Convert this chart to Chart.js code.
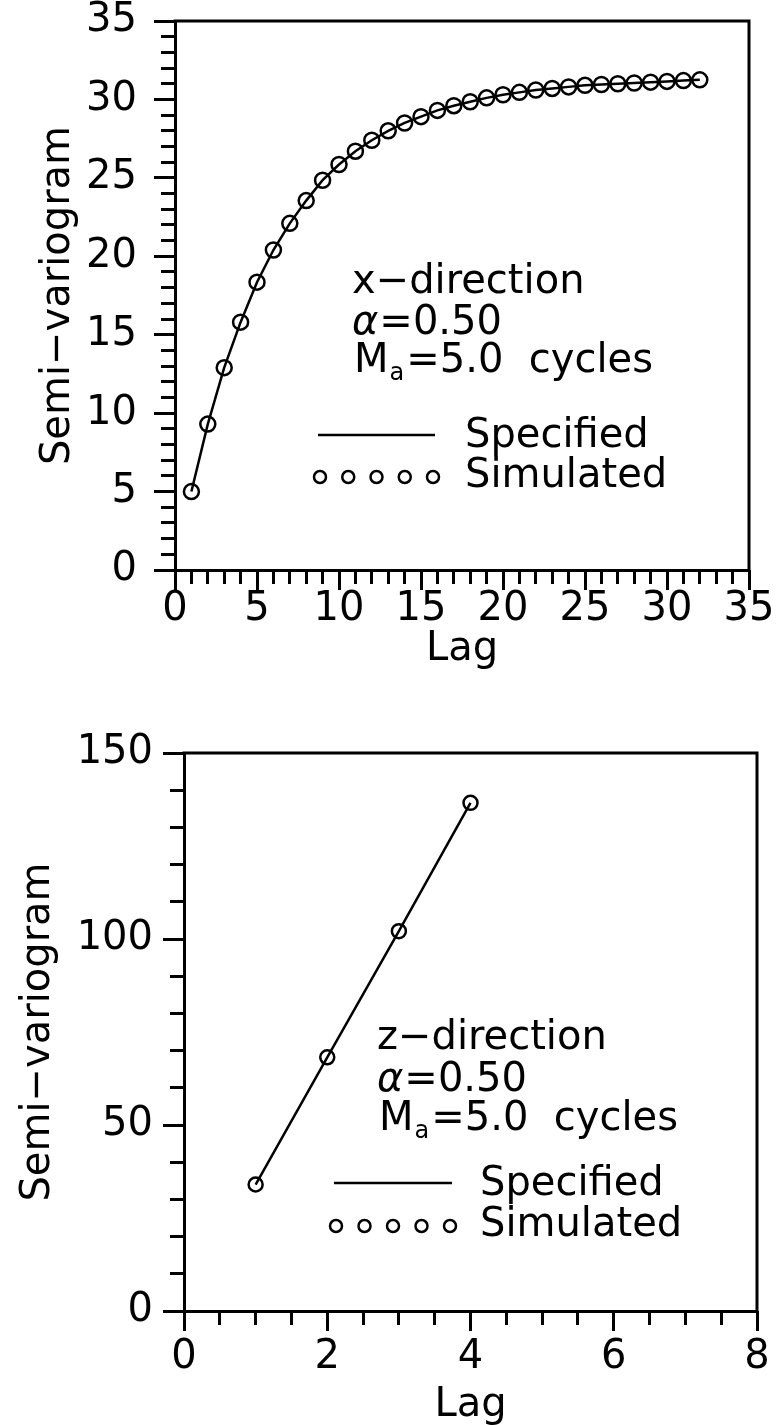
<!DOCTYPE html>
<html>
<head>
<meta charset="utf-8">
<title>Semi-variogram</title>
<script src="https://cdn.jsdelivr.net/npm/chart.js@4.4.1/dist/chart.umd.min.js"></script>
<style>
  html, body { margin: 0; padding: 0; background: #fff; }
  body { width: 782px; height: 1425px; position: relative; overflow: hidden; }
  canvas { position: absolute; left: 0; }
  #xdir { top: 0; }
  #zdir { top: 700px; }
</style>
</head>
<body>
<canvas id="xdir" width="782" height="700"></canvas>
<canvas id="zdir" width="782" height="725"></canvas>
<script>
// x-direction semi-variogram, lags 1..32
const xLag = [1, 2, 3, 4, 5, 6, 7, 8, 9, 10, 11, 12, 13, 14, 15, 16,
              17, 18, 19, 20, 21, 22, 23, 24, 25, 26, 27, 28, 29, 30, 31, 32];
const xGamma = [5.0, 9.3, 12.9, 15.8, 18.35, 20.4, 22.1, 23.55, 24.85, 25.85, 26.7, 27.4, 28.0, 28.5, 28.9, 29.3,
                29.6, 29.85, 30.1, 30.3, 30.45, 30.6, 30.7, 30.8, 30.9, 30.95, 31.0, 31.05, 31.1, 31.15, 31.2, 31.25];

// z-direction semi-variogram, lags 1..4
const zLag = [1, 2, 3, 4];
const zGamma = [34.0, 68.2, 102.1, 136.6];

// labelled tick values
const xLagTicks = [0, 5, 10, 15, 20, 25, 30, 35];
const xGammaTicks = [0, 5, 10, 15, 20, 25, 30, 35];
const zLagTicks = [0, 2, 4, 6, 8];
const zGammaTicks = [0, 50, 100, 150];

// annotation text
const xNoteTitle = 'x\u2212direction';
const zNoteTitle = 'z\u2212direction';
const noteAlphaSym = '\u03B1';
const noteAlphaVal = '=0.50';
const noteM = 'M';
const noteMSub = 'a';
const noteCycles = '=5.0  cycles';
const seriesSpecified = 'Specified';
const seriesSimulated = 'Simulated';
const axisTitleY = 'Semi\u2212variogram';
const axisTitleX = 'Lag';

const FONT = '"DejaVu Sans", "Liberation Sans", sans-serif';
Chart.defaults.font.family = FONT;
Chart.defaults.color = '#000';

const toPoints = (xs, ys) => xs.map((x, i) => ({ x: x, y: ys[i] }));

// top and right edges of the plotting frame
const framePlugin = {
  id: 'frame',
  afterDatasetsDraw(chart) {
    const { ctx, chartArea: a } = chart;
    ctx.save();
    ctx.strokeStyle = '#000';
    ctx.lineWidth = 3;
    ctx.lineCap = 'square';
    ctx.beginPath();
    ctx.moveTo(a.left, a.top);
    ctx.lineTo(a.right, a.top);
    ctx.lineTo(a.right, a.bottom);
    ctx.stroke();
    ctx.restore();
  }
};

// in-plot annotation with its own small key
const notePlugin = {
  id: 'note',
  afterDraw(chart, args, o) {
    const ctx = chart.ctx;
    const ds = chart.data.datasets;
    const big = '40px ' + FONT;
    ctx.save();
    ctx.fillStyle = '#000';
    ctx.strokeStyle = '#000';
    ctx.textAlign = 'left';
    ctx.textBaseline = 'alphabetic';
    ctx.font = big;
    ctx.fillText(o.title, o.x, o.y1);

    ctx.font = 'italic 40px ' + FONT;
    ctx.fillText(noteAlphaSym, o.x, o.y2);
    const aw = ctx.measureText(noteAlphaSym).width;
    ctx.font = big;
    ctx.fillText(noteAlphaVal, o.x + aw + 1, o.y2);

    ctx.fillText(noteM, o.x + 2, o.y3);
    const mw = ctx.measureText(noteM).width;
    ctx.font = '24px ' + FONT;
    ctx.fillText(noteMSub, o.x + 2 + mw + 1, o.y3 + 8);
    const sw = ctx.measureText(noteMSub).width;
    ctx.font = big;
    ctx.fillText(noteCycles, o.x + 2 + mw + sw + 3, o.y3);

    // key: solid line
    ctx.lineWidth = 2.5;
    ctx.beginPath();
    ctx.moveTo(o.keyX0, o.lineY);
    ctx.lineTo(o.keyX1, o.lineY);
    ctx.stroke();
    ctx.fillText(ds[0].label, o.textX, o.lineY + 12);
    // key: row of open circles
    for (let i = 0; i < 5; i++) {
      const cx = o.keyX0 + 2 + i * (o.keyX1 - o.keyX0 - 4) / 4;
      ctx.beginPath();
      ctx.arc(cx, o.circleY, 6, 0, Math.PI * 2);
      ctx.stroke();
    }
    ctx.fillText(ds[1].label, o.textX, o.circleY + 10);
    ctx.restore();
  }
};

function buildChart(id, cfg) {
  const tickFont = { size: 40, lineHeight: 1 };
  const titleFont = { size: 40, lineHeight: 1.2 };
  const pts = toPoints(cfg.lag, cfg.gamma);
  return new Chart(document.getElementById(id), {
    type: 'scatter',
    data: {
      datasets: [
        {
          label: seriesSpecified,
          data: pts,
          showLine: true,
          borderColor: '#000',
          borderWidth: 2.5,
          pointRadius: 0,
          pointHoverRadius: 0,
          fill: false
        },
        {
          label: seriesSimulated,
          data: pts,
          showLine: false,
          pointStyle: 'circle',
          pointRadius: cfg.pointRadius,
          pointHoverRadius: cfg.pointRadius,
          pointBorderWidth: 2.5,
          borderColor: '#000',
          backgroundColor: 'rgba(0,0,0,0)'
        }
      ]
    },
    options: {
      responsive: false,
      animation: false,
      events: [],
      layout: { padding: cfg.padding },
      plugins: {
        legend: { display: false },
        tooltip: { enabled: false },
        note: cfg.note
      },
      scales: {
        x: {
          type: 'linear',
          position: 'bottom',
          min: cfg.xMin, max: cfg.xMax,
          afterBuildTicks: s => { s.ticks = cfg.xTicks.map(v => ({ value: v })); },
          afterFit: s => { s.height = cfg.xHeight; },
          border: { display: true, width: 3, color: '#000' },
          grid: { drawOnChartArea: false, tickLength: 20, tickWidth: 3, tickColor: '#000' },
          ticks: { font: tickFont, color: '#000', padding: cfg.xTickPad, maxRotation: 0, autoSkip: false },
          title: { display: true, text: axisTitleX, font: titleFont, color: '#000',
                   padding: { top: 0, bottom: cfg.xTitlePad } }
        },
        y: {
          type: 'linear',
          position: 'left',
          min: cfg.yMin, max: cfg.yMax,
          afterBuildTicks: s => { s.ticks = cfg.yTicks.map(v => ({ value: v })); },
          afterFit: s => {
            s.width = cfg.yWidth;
            // the frame keeps its own top margin; labels may overhang it
            s.paddingTop = 0;
            s.paddingBottom = 0;
          },
          border: { display: true, width: 3, color: '#000' },
          grid: { drawOnChartArea: false, tickLength: 21, tickWidth: 3, tickColor: '#000' },
          ticks: { font: tickFont, color: '#000', padding: cfg.yTickPad, autoSkip: false },
          title: { display: true, text: axisTitleY, font: titleFont, color: '#000',
                   padding: { top: cfg.yTitlePad, bottom: 0 } }
        },
        xMinor: {
          type: 'linear',
          axis: 'x',
          position: { y: cfg.yMin },
          min: cfg.xMin, max: cfg.xMax,
          border: { display: false },
          grid: { drawOnChartArea: false, tickLength: 14, tickWidth: 3, tickColor: '#000' },
          ticks: { display: false, stepSize: cfg.xMinorStep, autoSkip: false }
        },
        yMinor: {
          type: 'linear',
          axis: 'y',
          position: { x: cfg.xMin },
          min: cfg.yMin, max: cfg.yMax,
          border: { display: false },
          grid: { drawOnChartArea: false, tickLength: 14, tickWidth: 3, tickColor: '#000' },
          ticks: { display: false, stepSize: cfg.yMinorStep, autoSkip: false }
        }
      }
    },
    plugins: [framePlugin, notePlugin]
  });
}

// upper panel: x-direction
buildChart('xdir', {
  lag: xLag, gamma: xGamma,
  xMin: 0, xMax: 35, xTicks: xLagTicks, xMinorStep: 1,
  yMin: 0, yMax: 35, yTicks: xGammaTicks, yMinorStep: 1,
  pointRadius: 7.5,
  padding: { left: 0, top: 21, right: 33, bottom: 0 },
  xHeight: 130, yWidth: 175,
  xTickPad: 0, yTickPad: 17,
  xTitlePad: 26, yTitlePad: 35,
  note: {
    title: xNoteTitle, x: 352, y1: 293, y2: 334, y3: 372,
    keyX0: 318, keyX1: 435, lineY: 435, circleY: 477, textX: 465
  }
});

// lower panel: z-direction
buildChart('zdir', {
  lag: zLag, gamma: zGamma,
  xMin: 0, xMax: 8, xTicks: zLagTicks, xMinorStep: 0.5,
  yMin: 0, yMax: 150, yTicks: zGammaTicks, yMinorStep: 10,
  pointRadius: 7,
  padding: { left: 0, top: 53, right: 25, bottom: 0 },
  xHeight: 114, yWidth: 184,
  xTickPad: 7, yTickPad: 10,
  xTitlePad: -5, yTitlePad: 15,
  note: {
    title: zNoteTitle, x: 377, y1: 349, y2: 391, y3: 430,
    keyX0: 334, keyX1: 452, lineY: 483, circleY: 526, textX: 480
  }
});
</script>
</body>
</html>
